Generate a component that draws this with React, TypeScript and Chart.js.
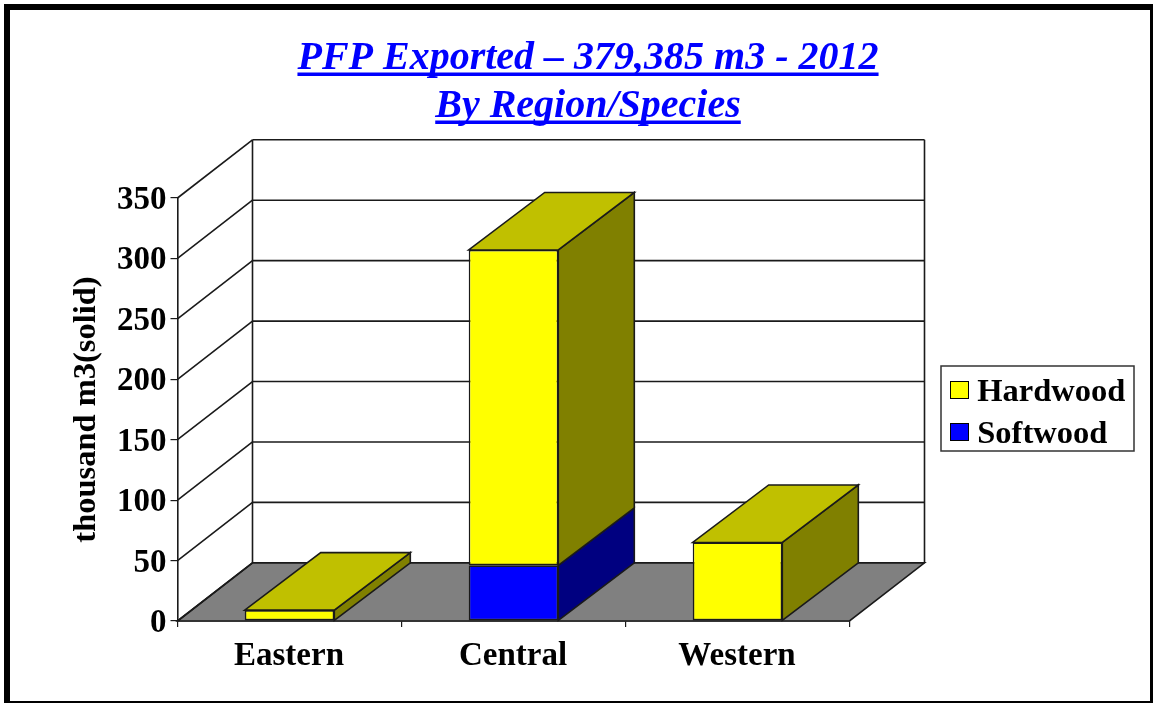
import React, { useEffect, useRef } from "react";
import { Chart, registerables } from "chart.js";

Chart.register(...registerables);

const regions = ["Eastern", "Central", "Western"];
const softwood = [0, 46, 0];
const hardwood = [9, 261, 65];
const titleLines = ["PFP Exported \u2013 379,385 m3 - 2012", "By Region/Species"];
const yAxisTitle = "thousand m3(solid)";

const SERIF = "'Liberation Serif', 'Times New Roman', serif";
const LINE = "#1a1a1a";
const LW = 1.6;

const frontColors = ["#0000FF", "#FFFF00"];
const sideColors = ["#000080", "#808000"];
const topColors = ["#0000C0", "#C0C000"];

const wallDx = 75;
const wallDy = 58.2;
const barDx = 76;
const barDy = 57.5;

function poly(ctx: CanvasRenderingContext2D, pts: number[][], fill: string | null, stroke = LINE, lw = LW) {
  ctx.beginPath();
  pts.forEach(([x, y], i) => (i ? ctx.lineTo(x, y) : ctx.moveTo(x, y)));
  ctx.closePath();
  if (fill) {
    ctx.fillStyle = fill;
    ctx.fill();
  }
  ctx.lineWidth = lw;
  ctx.strokeStyle = stroke;
  ctx.lineJoin = "miter";
  ctx.stroke();
}

function line(ctx: CanvasRenderingContext2D, x1: number, y1: number, x2: number, y2: number, lw = LW) {
  ctx.beginPath();
  ctx.moveTo(x1, y1);
  ctx.lineTo(x2, y2);
  ctx.lineWidth = lw;
  ctx.strokeStyle = LINE;
  ctx.stroke();
}

const scene3d = {
  id: "scene3d",
  afterLayout(chart: any) {
    const lg = chart.legend;
    const w = lg.width;
    const h = lg.height;
    lg.left = 914.5;
    lg.top = 357;
    lg.right = lg.left + w;
    lg.bottom = lg.top + h;
    const tb = chart.titleBlock;
    tb.left = 0;
    tb.right = chart.width;
  },
  beforeDraw(chart: any) {
    const ctx = chart.ctx;
    ctx.save();
    poly(ctx, [[915, 356], [1108, 356], [1108, 441], [915, 441]], "#FFFFFF", "#333333", 1.5);
    ctx.restore();
    chart.scales.y.getLabelItems().forEach((it: any) => {
      it.options.translation[1] += 2.5;
    });
    chart.scales.x.getLabelItems().forEach((it: any) => {
      it.options.translation[0] -= 0.5;
    });
  },
  beforeDatasetsDraw(chart: any) {
    const ctx = chart.ctx;
    const { x, y } = chart.scales;
    const l = x.left;
    const r = x.right;
    const yBase = y.getPixelForValue(0);
    const yTop = y.getPixelForValue(350);
    ctx.save();
    // floor
    poly(ctx, [[l, yBase], [r, yBase], [r + wallDx, yBase - wallDy], [l + wallDx, yBase - wallDy]], "#808080");
    // walls
    y.ticks.forEach((t: any) => {
      const py = y.getPixelForValue(t.value);
      line(ctx, l, py, l + wallDx, py - wallDy);
      line(ctx, l + wallDx, py - wallDy, r + wallDx, py - wallDy);
    });
    line(ctx, l + wallDx, yTop - wallDy, l + wallDx, yBase - wallDy);
    line(ctx, r + wallDx, yTop - wallDy, r + wallDx, yBase - wallDy);
    // bar depth faces
    regions.forEach((_, j) => {
      let topBar: any = null;
      let topDs = 0;
      chart.data.datasets.forEach((ds: any, i: number) => {
        if (!ds.data[j]) return;
        const b = chart.getDatasetMeta(i).data[j];
        const right = b.x + b.width / 2;
        poly(ctx, [[right, b.y], [right + barDx, b.y - barDy], [right + barDx, b.base - barDy], [right, b.base]], sideColors[i]);
        topBar = b;
        topDs = i;
      });
      if (topBar) {
        const le = topBar.x - topBar.width / 2;
        const ri = topBar.x + topBar.width / 2;
        poly(ctx, [[le, topBar.y], [ri, topBar.y], [ri + barDx, topBar.y - barDy], [le + barDx, topBar.y - barDy]], topColors[topDs]);
      }
    });
    ctx.restore();
  },
  afterDraw(chart: any) {
    const ctx = chart.ctx;
    ctx.save();
    // title underlines
    const tb = chart.titleBlock;
    const font = tb.options.font;
    ctx.font = `italic bold ${font.size}px ${SERIF}`;
    ctx.fillStyle = "#0000FF";
    const cx = chart.width / 2;
    const lh = font.size * font.lineHeight;
    titleLines.forEach((t, i) => {
      const w = ctx.measureText(t).width;
      const cy = tb.top + tb.options.padding.top + lh / 2 + i * lh;
      ctx.fillRect(cx - w / 2, cy + 13.5, w, 3.5);
    });
    // legend swatches
    chart.legend.legendItems.forEach((it: any, i: number) => {
      ctx.fillStyle = it.fillStyle;
      ctx.strokeStyle = "#000000";
      ctx.lineWidth = 1;
      ctx.fillRect(924, 371 + i * 42, 19, 18);
      ctx.strokeRect(924.5, 371.5 + i * 42, 18, 17);
    });
    ctx.restore();
  },
};

export default function App() {
  const ref = useRef<HTMLCanvasElement | null>(null);
  useEffect(() => {
    const chart = new Chart(ref.current as HTMLCanvasElement, {
      type: "bar",
      data: {
        labels: regions,
        datasets: [softwood, hardwood].map((d, i) => ({
          label: ["Softwood", "Hardwood"][i],
          data: d,
          backgroundColor: frontColors[i],
          borderColor: LINE,
          borderWidth: LW,
          borderSkipped: false,
          categoryPercentage: 1,
          barPercentage: 0.4,
        })),
      },
      options: {
        animation: false,
        responsive: false,
        events: [],
        layout: { padding: { left: 38.5, right: 300.5, top: 0, bottom: 30 } },
        plugins: {
          tooltip: { enabled: false },
          title: {
            display: true,
            text: titleLines,
            color: "#0000FF",
            font: { family: SERIF, size: 40, weight: "bold", style: "italic", lineHeight: 48 / 40 },
            padding: { top: 25, bottom: 67 },
          },
          legend: {
            position: "chartArea",
            align: "start",
            reverse: true,
            labels: {
              color: "#000000",
              font: { family: SERIF, size: 32.5, weight: "bold" },
              boxWidth: 11,
              boxHeight: 6,
              padding: 9.5,
              generateLabels: (c: any) => {
                const items = (Chart.defaults as any).plugins.legend.labels.generateLabels(c);
                items.forEach((it: any) => {
                  it.lineWidth = 0;
                });
                return items;
              },
            },
          },
        },
        scales: {
          x: {
            stacked: true,
            offset: true,
            afterFit: (s: any) => {
              s.height = 50;
            },
            border: { color: LINE, width: LW },
            grid: { offset: true, drawOnChartArea: false, drawTicks: true, tickLength: 6, color: LINE, lineWidth: 1.2 },
            ticks: {
              color: "#000000",
              padding: 10,
              maxRotation: 0,
              autoSkip: false,
              font: { family: SERIF, size: 33, weight: "bold" },
            },
          },
          y: {
            stacked: true,
            min: 0,
            max: 350,
            afterFit: (s: any) => {
              s.width = 113;
            },
            border: { color: LINE, width: LW },
            grid: { drawOnChartArea: false, drawTicks: true, tickLength: 7, color: LINE, lineWidth: 1.2 },
            ticks: {
              stepSize: 50,
              color: "#000000",
              padding: 4,
              font: { family: SERIF, size: 33, weight: "bold" },
            },
            title: {
              display: true,
              text: yAxisTitle,
              color: "#000000",
              padding: { top: 2.5, bottom: 0 },
              font: { family: SERIF, size: 32.5, weight: "bold" },
            },
          },
        },
      },
      plugins: [scene3d],
    } as any);
    return () => chart.destroy();
  }, []);
  return (
    <div
      style={{
        position: "absolute",
        left: 4,
        top: 4,
        width: 1149,
        height: 699,
        boxSizing: "border-box",
        background: "#FFFFFF",
        borderStyle: "solid",
        borderColor: "#000000",
        borderWidth: "6px 3px 2px 6px",
        overflow: "hidden",
      }}
    >
      <canvas ref={ref} width={1124} height={691} style={{ position: "absolute", left: 16, top: 0, display: "block" }} />
    </div>
  );
}
